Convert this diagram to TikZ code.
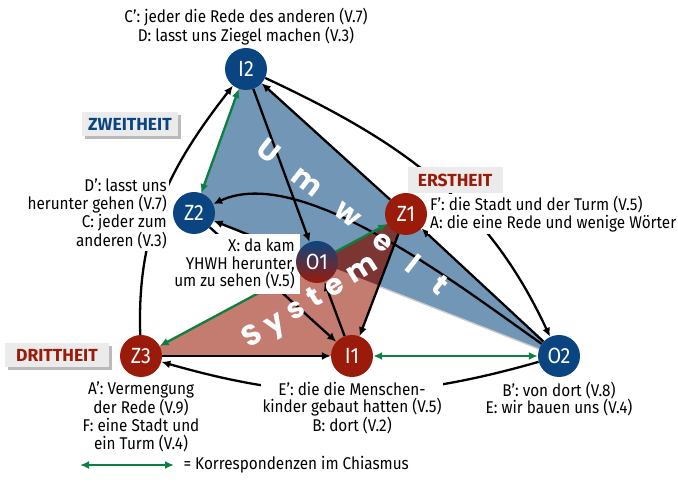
\documentclass[tikz,border=0pt]{standalone}
\usepackage{fontspec}
\setmainfont{Fira Sans}[FakeStretch=0.9]
\newfontfamily\boxfont{Fira Sans}
\newfontfamily\spreadfont{Poppins}
\usepackage{xcolor}
\usepackage{tikz}
\usetikzlibrary{positioning, arrows.meta, shadows, calc, backgrounds}

\definecolor{nodeblue}{HTML}{0B4581}
\definecolor{nodered}{HTML}{9A1B0A}
\definecolor{umweltblue}{HTML}{7296B6}
\definecolor{systemred}{HTML}{C47B70}
\definecolor{overlapred}{HTML}{7B3533}
\definecolor{corrgreen}{HTML}{0B8040}
\definecolor{boxgray}{HTML}{EBEBEB}

\pgfdeclarelayer{arrows}
\pgfsetlayers{background,arrows,main}

\begin{document}
\begin{tikzpicture}[x=1pt, y=1pt,
  stage/.style={circle, minimum size=42pt, inner sep=0pt, text=white, font=\fontsize{22}{22}\selectfont},
  info/.style={fill=white, inner sep=2pt, align=center, font=\fontsize{17}{17.8}\selectfont},
  flow/.style={-{Latex[length=9pt,width=8pt]}, line width=2.3pt},
  corr/.style={{Latex[length=9pt,width=8pt]}-{Latex[length=9pt,width=8pt]}, line width=2.3pt, corrgreen},
  category/.style={fill=boxgray, inner sep=0pt, minimum height=24pt, font=\boxfont\bfseries\fontsize{17.5}{17.5}\selectfont},
  boxshadow/.style={drop shadow={shadow xshift=3pt, shadow yshift=-3pt, fill=black!45, opacity=0.6}},
  spread/.style={text=white, inner sep=0pt, font=\spreadfont\bfseries\fontsize{29}{29}\selectfont}
]
\useasboundingbox (0,0) rectangle (678,-502);

% stages
\node[stage, fill=nodeblue] (I2) at (246,-69) {I2};
\node[stage, fill=nodeblue] (Z2) at (194,-213) {Z2};
\node[stage, fill=nodered] (Z1) at (406,-214) {Z1};
\node[stage, top color=nodeblue, bottom color=nodered] (O1) at (317,-262) {O1};
\node[stage, fill=nodered] (Z3) at (141,-356) {Z3};
\node[stage, fill=nodered] (I1) at (352,-356) {I1};
\node[stage, fill=nodeblue] (O2) at (559,-356) {O2};

% Umwelt and System
\begin{scope}[on background layer]
\fill[umweltblue, drop shadow={shadow xshift=1pt, shadow yshift=-2pt, fill=black!40, opacity=0.5}] (I2.center) -- (Z2.center) -- (O2.center) -- cycle;
\fill[systemred] (Z3.center) -- (Z1.center) -- (I1.center) -- cycle;
\begin{scope}
\clip (I2.center) -- (Z2.center) -- (O2.center) -- cycle;
\fill[overlapred] (Z3.center) -- (Z1.center) -- (I1.center) -- cycle;
\end{scope}
\end{scope}

\begin{pgfonlayer}{arrows}
% connectors
\draw[flow] (I2) -- (O1);
\draw[flow] (Z1) -- (I2);
\draw[flow] (I2) to[out=-25, in=115] (O2);
\draw[flow] (O2) -- (Z1);
\draw[flow] (O2) to[out=145, in=25, looseness=0.7] (Z2);
\draw[flow] (Z3) to[out=92, in=232] (I2);
\draw[flow] (O1) -- (Z2);
\draw[flow] (Z2) -- (I1);
\draw[flow] (Z3) -- (I1);
\draw[flow] (O2) to[bend left=16] (Z3);
\draw[flow] (Z1) -- (I1);
\draw[flow] (I1) -- (O1);
\draw[corr] (Z2) -- (I2);
\draw[corr] (Z3) -- (Z1);
\draw[corr] (I1) -- (O2);

\node[spread, rotate=-38] (umwelt) at (353,-216) {U\hspace{24pt}m\hspace{24pt}w\hspace{24pt}e\hspace{24pt}l\hspace{24pt}t};
\node[spread, rotate=32] (system) at (311,-303) {S\hspace{8pt}y\hspace{8pt}s\hspace{8pt}t\hspace{8pt}e\hspace{8pt}m};

% labels
\node[info] (top label) at (246,-27) {C': jeder die Rede des anderen (V.7)\\D: lasst uns Ziegel machen (V.3)};
\node[info, anchor=east, align=right] (left label) at (169,-214) {D': lasst uns\\herunter gehen (V.7)\\C: jeder zum\\anderen (V.3)};
\node[info, anchor=east, align=right, inner sep=5pt] (x label) at (300,-264) {X: da kam\\YHWH herunter,\\um zu sehen (V.5)};
\node[info, anchor=west, align=left] (right label) at (428,-214) {F': die Stadt und der Turm (V.5)\\A: die eine Rede und wenige Wörter};
\node[info] (z3 label) at (141,-417) {A': Vermengung\\der Rede (V.9)\\F: eine Stadt und\\ein Turm (V.4)};
\node[info] (i1 label) at (352,-408) {E': die die Menschen-\\kinder gebaut hatten (V.5)\\B: dort (V.2)};
\node[info] (o2 label) at (559,-399) {B': von dort (V.8)\\E: wir bauen uns (V.4)};

\node[category, minimum width=96pt, text=nodeblue, boxshadow] (zweitheit) at (130,-124) {ZWEITHEIT};
\node[category, minimum width=95pt, minimum height=26pt, text=nodered] (erstheit) at (455,-180) {ERSTHEIT};
\node[category, minimum width=104pt, text=nodered, boxshadow] (drittheit) at (57,-355) {DRITTHEIT};
\end{pgfonlayer}

% legend
\coordinate (legend start) at (80,-465);
\coordinate (legend end) at (174,-465);
\draw[corr] (legend start) -- (legend end);
\node[anchor=west, font=\fontsize{17}{17}\selectfont] (legend) at (180,-465) {= Korrespondenzen im Chiasmus};
\end{tikzpicture}
\end{document}
